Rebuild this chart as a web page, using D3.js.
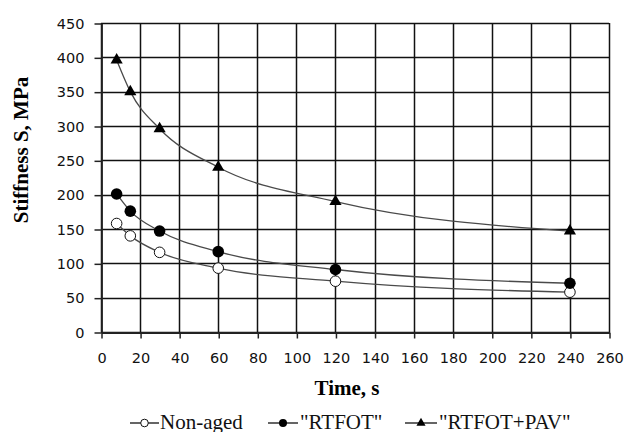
<!DOCTYPE html>
<html>
<head>
<meta charset="utf-8">
<script src="https://cdn.jsdelivr.net/npm/d3@7"></script>
<style>
  html, body { margin: 0; padding: 0; background: #fff; }
  svg { display: block; }
</style>
</head>
<body>
<svg id="chart" width="625" height="432"></svg>
<script>
// ---- data ----
const times = [8, 15, 30, 60, 120, 240];
const nonAged = [158, 140, 116, 93, 74, 58];
const rtfot = [201, 176, 147, 117, 91, 71];
const rtfotPav = [396, 350, 296, 240, 190, 147];
const seriesNames = ["Non-aged", "\"RTFOT\"", "\"RTFOT+PAV\""];
const xTicks = [0, 20, 40, 60, 80, 100, 120, 140, 160, 180, 200, 220, 240, 260];
const yTicks = [0, 50, 100, 150, 200, 250, 300, 350, 400, 450];
const xTitle = "Time, s";
const yTitle = "Stiffness S, MPa";

const series = [
  { name: seriesNames[0], values: nonAged, marker: "openCircle" },
  { name: seriesNames[1], values: rtfot, marker: "filledCircle" },
  { name: seriesNames[2], values: rtfotPav, marker: "triangle" }
];

const svg = d3.select("#chart");
const x = d3.scaleLinear().domain([0, 260]).range([101, 609]);
const y = d3.scaleLinear().domain([0, 450]).range([332, 23]);

const gridColor = "#111";
const tickFont = "'DejaVu Sans', Verdana, sans-serif";
const serif = "'Liberation Serif', 'Times New Roman', serif";

// grid
const grid = svg.append("g");
grid.selectAll("line.v").data(xTicks).join("line")
  .attr("x1", d => Math.round(x(d)) + 0.5).attr("x2", d => Math.round(x(d)) + 0.5)
  .attr("y1", y(450)).attr("y2", y(0))
  .attr("stroke", gridColor).attr("stroke-width", 1.5);
grid.selectAll("line.h").data(yTicks).join("line")
  .attr("y1", d => Math.round(y(d)) + 0.5).attr("y2", d => Math.round(y(d)) + 0.5)
  .attr("x1", x(0)).attr("x2", x(260))
  .attr("stroke", gridColor).attr("stroke-width", 1.5);

// axes
const xAxis = svg.append("g")
  .attr("transform", `translate(0.5,${Math.round(y(0)) + 0.5})`)
  .call(d3.axisBottom(x).tickValues(xTicks).tickSizeInner(6).tickSizeOuter(0).tickPadding(14));
xAxis.select(".domain").attr("stroke", "#222").attr("stroke-width", 1.8);
xAxis.selectAll(".tick line").attr("stroke", "#222").attr("stroke-width", 1.5);
xAxis.selectAll("text").attr("font-family", tickFont).attr("font-size", 14.5).attr("fill", "#111");

const yAxis = svg.append("g")
  .attr("transform", `translate(${Math.round(x(0)) + 0.5},0.5)`)
  .call(d3.axisLeft(y).tickValues(yTicks).tickSizeInner(7).tickSizeOuter(0).tickPadding(10));
yAxis.select(".domain").attr("stroke", "#222").attr("stroke-width", 1.8);
yAxis.selectAll(".tick line").attr("stroke", "#222").attr("stroke-width", 1.5);
yAxis.selectAll("text").attr("font-family", tickFont).attr("font-size", 14.5).attr("fill", "#111");

// titles
svg.append("text")
  .attr("x", 347).attr("y", 395)
  .attr("text-anchor", "middle")
  .attr("font-family", serif).attr("font-weight", "bold").attr("font-size", 21)
  .text(xTitle);
svg.append("text")
  .attr("transform", "translate(28,150) rotate(-90)")
  .attr("text-anchor", "middle")
  .attr("font-family", serif).attr("font-weight", "bold").attr("font-size", 21)
  .text(yTitle);

// lines
const line = d3.line()
  .x(d => x(d[0])).y(d => y(d[1]))
  .curve(d3.curveMonotoneX);
series.forEach(s => {
  svg.append("path")
    .datum(times.map((t, i) => [t, s.values[i]]))
    .attr("d", line)
    .attr("fill", "none")
    .attr("stroke", "#4a4a4a")
    .attr("stroke-width", 1.3);
});

function drawMarker(g, type, big) {
  if (type === "openCircle") {
    g.append("circle").attr("r", big ? 5.3 : 3.8)
      .attr("fill", "#fff").attr("stroke", "#111").attr("stroke-width", 1);
  } else if (type === "filledCircle") {
    g.append("circle").attr("r", big ? 5.8 : 4)
      .attr("fill", "#000");
  } else {
    g.append("path").attr("d", d3.symbol(d3.symbolTriangle, big ? 64 : 36)())
      .attr("fill", "#000");
  }
}

// markers
series.forEach(s => {
  times.forEach((t, i) => {
    const g = svg.append("g").attr("transform", `translate(${x(t)},${y(s.values[i])})`);
    drawMarker(g, s.marker, true);
  });
});

// legend
const legendItems = [
  { x0: 130, x1: 159, tx: 160 },
  { x0: 268, x1: 298, tx: 300 },
  { x0: 405, x1: 437, tx: 439 }
];
const ly = 423;
series.forEach((s, i) => {
  const li = legendItems[i];
  svg.append("line").attr("x1", li.x0).attr("x2", li.x1).attr("y1", ly).attr("y2", ly)
    .attr("stroke", "#111").attr("stroke-width", 1.3);
  const g = svg.append("g").attr("transform", `translate(${(li.x0 + li.x1) / 2},${ly})`);
  drawMarker(g, s.marker, false);
  svg.append("text").attr("x", li.tx).attr("y", 428.5)
    .attr("font-family", serif).attr("font-size", 21).attr("fill", "#111")
    .text(s.name);
});
</script>
</body>
</html>
